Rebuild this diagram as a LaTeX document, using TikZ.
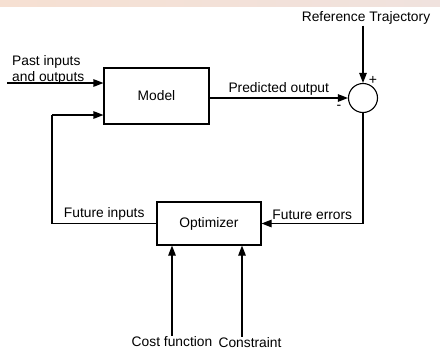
\documentclass[tikz,border=0pt]{standalone}
\usepackage{fontspec}
\setmainfont{Liberation Sans}
\usetikzlibrary{arrows.meta,calc}
\begin{document}
\begin{tikzpicture}[x=1pt,y=-1pt]
			% Styles (MODIFIABLES)
			\tikzstyle{fleche}=[->,>={Triangle[length=10pt,width=7.5pt]},line width=1.1pt]
			\tikzstyle{trait}=[-,line width=1.1pt]
			\tikzstyle{bloc}=[draw,line width=1.1pt,inner sep=0pt]
			\tikzstyle{commentaire}=[black,inner sep=1pt]
			\tikzstyle{signe}=[black,inner sep=0pt,font=\fontsize{14}{15}\selectfont]
			% Dimensions (MODIFIABLES)
			\def\LargeurModele{105}
			\def\HauteurModele{56}
			\def\LargeurOptim{104}
			\def\HauteurOptim{43}
			\def\RayonSomme{14.5}
			% Cadre et bandeau
			\useasboundingbox (0,0) rectangle (440,354);
			\shade[left color={rgb,255:red,246;green,224;blue,210},right color={rgb,255:red,240;green,226;blue,222}] (0,0) rectangle (440,6);
			\fontsize{13.8}{16.6}\selectfont
			% Noeuds (MODIFIABLES)
			\node[bloc,minimum width=\LargeurModele,minimum height=\HauteurModele] (modele) at (156.5,96) {Model};
			\node[bloc,minimum width=\LargeurOptim,minimum height=\HauteurOptim] (optim) at (209,223.5) {Optimizer};
			\node[bloc,circle,minimum size={2*\RayonSomme}] (somme) at (363,98) {};
			\node[commentaire] (ref) at (366,18) {Reference Trajectory};
			\node[commentaire,anchor=south west,align=left,inner sep=0pt] (passe) at (12,85) {Past inputs\\and outputs};
			\node[commentaire] (cout) at (172,342) {Cost function};
			\node[commentaire] (contrainte) at (250,343) {Constraint};
			\node[signe] (plus) at (373,80) {+};
			\node[signe] (moins) at (339,107) {-};
			\coordinate (entree) at (7,83);
			\coordinate (coin) at (52,115);
			% Arcs (MODIFIABLES : Styles)
			\draw[fleche] (entree)--(entree -| modele.west);
			\draw[fleche] (ref.south -| somme.north)--(somme.north);
			\draw[fleche] (somme.west -| modele.east)--(somme.west) node[midway, above, commentaire, yshift=1pt]{Predicted output};
			\draw[fleche] (somme.south) |- (optim.east) node[pos=0.75, above, commentaire, yshift=2pt]{Future errors};
			\draw[trait] (optim.west) -| (coin) node[pos=0.25, above, commentaire, yshift=2pt]{Future inputs};
			\draw[fleche] (coin)--(coin -| modele.west);
			\draw[fleche] (cout.north)--(cout.north |- optim.south);
			\draw[fleche] ([xshift=-8pt]contrainte.north)--([xshift=-8pt]contrainte.north |- optim.south);
		\end{tikzpicture}
\end{document}
